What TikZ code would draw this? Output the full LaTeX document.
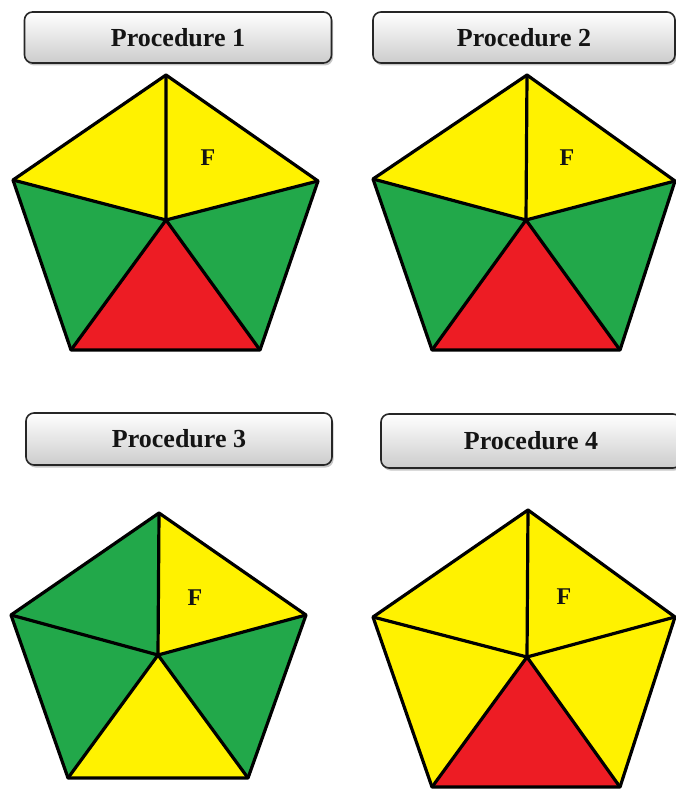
\documentclass[tikz,border=0pt]{standalone}
\usepackage{fontspec}
\setmainfont{Liberation Serif}
\usetikzlibrary{shadows}
\definecolor{pyellow}{HTML}{FFF200}
\definecolor{pgreen}{HTML}{22A84A}
\definecolor{pred}{HTML}{ED1C24}
\tikzset{
  procbox/.style={draw=black!85, line width=1.6pt, rounded corners=8pt,
    top color=white, bottom color=black!20,
    drop shadow={shadow xshift=1.5pt, shadow yshift=-2.5pt, opacity=0.45},
    font=\fontsize{26}{30}\selectfont\bfseries, text=black!92},
  tri/.style={draw=black, line width=3.2pt, line join=round},
  flabel/.style={font=\fontsize{24}{28}\selectfont\bfseries, text=black!92}
}
\newcommand{\drawpent}[6]{%
  \fill[#2] (#1c) -- (#1t) -- (#1r) -- cycle;
  \fill[#3] (#1c) -- (#1r) -- (#1br) -- cycle;
  \fill[#4] (#1c) -- (#1br) -- (#1bl) -- cycle;
  \fill[#5] (#1c) -- (#1bl) -- (#1l) -- cycle;
  \fill[#6] (#1c) -- (#1l) -- (#1t) -- cycle;
  \draw[tri] (#1t) -- (#1r) -- (#1br) -- (#1bl) -- (#1l) -- cycle;
  \draw[tri] (#1c) -- (#1t) (#1c) -- (#1r) (#1c) -- (#1br) (#1c) -- (#1bl) (#1c) -- (#1l);
}
\begin{document}
\begin{tikzpicture}[x=1pt,y=-1pt]
\useasboundingbox (0,0) rectangle (676,789);
% procedure boxes
\node[procbox, minimum width=307pt, minimum height=51pt] (b1) at (178,37.5) {Procedure 1};
\node[procbox, minimum width=302pt, minimum height=51pt] (b2) at (524,37.5) {Procedure 2};
\node[procbox, minimum width=306pt, minimum height=52pt] (b3) at (179,439) {Procedure 3};
\node[procbox, minimum width=300pt, minimum height=54pt] (b4) at (531,441) {Procedure 4};
% pentagon 1
\coordinate (At) at (166,75);
\coordinate (Ar) at (318,181);
\coordinate (Abr) at (260,350);
\coordinate (Abl) at (71,350);
\coordinate (Al) at (13,180);
\coordinate (Ac) at (166,220);
\drawpent{A}{pyellow}{pgreen}{pred}{pgreen}{pyellow}
\node[flabel] (fA) at (208,158) {F};
% pentagon 2
\coordinate (Bt) at (527,75);
\coordinate (Br) at (675,181);
\coordinate (Bbr) at (620,350);
\coordinate (Bbl) at (432,350);
\coordinate (Bl) at (373,179);
\coordinate (Bc) at (526,220);
\drawpent{B}{pyellow}{pgreen}{pred}{pgreen}{pyellow}
\node[flabel] (fB) at (567,158) {F};
% pentagon 3
\coordinate (Ct) at (159,513);
\coordinate (Cr) at (306,615);
\coordinate (Cbr) at (248,778);
\coordinate (Cbl) at (68,778);
\coordinate (Cl) at (11,615);
\coordinate (Cc) at (158,655);
\drawpent{C}{pyellow}{pgreen}{pyellow}{pgreen}{pgreen}
\node[flabel] (fC) at (195,598) {F};
% pentagon 4
\coordinate (Dt) at (528,510);
\coordinate (Dr) at (675,617);
\coordinate (Dbr) at (620,787);
\coordinate (Dbl) at (432,787);
\coordinate (Dl) at (373,617);
\coordinate (Dc) at (527,657);
\drawpent{D}{pyellow}{pyellow}{pred}{pyellow}{pyellow}
\node[flabel] (fD) at (564,597) {F};
\end{tikzpicture}
\end{document}
